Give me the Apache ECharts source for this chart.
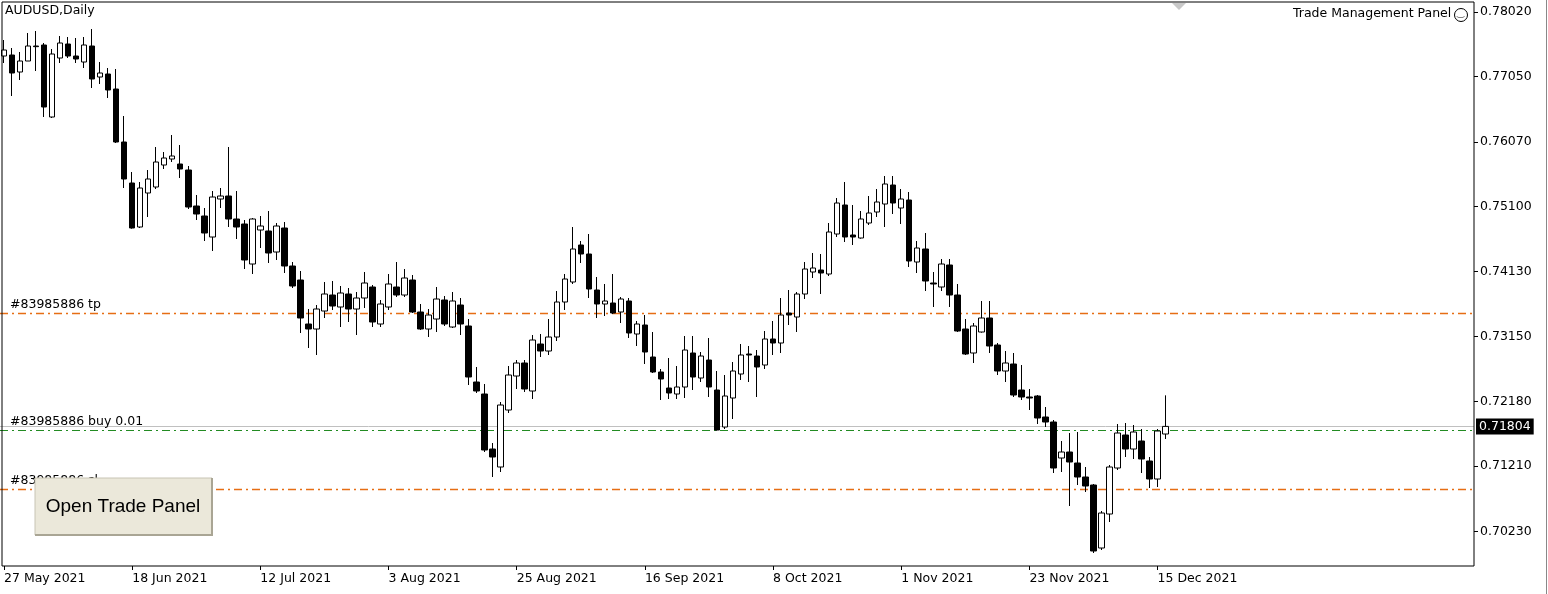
<!DOCTYPE html>
<html><head><meta charset="utf-8">
<script src="https://cdn.jsdelivr.net/npm/echarts@6/dist/echarts.min.js"></script>
<style>html,body{margin:0;padding:0;background:#fff}#c{width:1548px;height:594px}</style>
</head><body><div id="c"></div>
<script>
// OHLC: [open, close, low, high]
const ohlc = [
[0.7736,0.7745,0.77255,0.7760],[0.77375,0.77105,0.7676,0.7748],[0.7712,0.77285,0.7700,0.7742],[0.77285,0.7751,0.77285,0.77705],
[0.7751,0.7750,0.77135,0.77735],[0.77525,0.76595,0.76445,0.77555],[0.76445,0.7739,0.7643,0.77465],[0.7733,0.77555,0.77255,0.7766],
[0.7754,0.7736,0.7733,0.77645],[0.7736,0.77315,0.77255,0.7763],[0.7727,0.77525,0.7718,0.77645],[0.7751,0.77015,0.7688,0.77765],
[0.77045,0.77105,0.7694,0.7727],[0.7709,0.7685,0.7673,0.7718],[0.76865,0.7607,0.76055,0.77165],[0.7607,0.75515,0.7538,0.7646],
[0.75455,0.7478,0.7477,0.7562],[0.74795,0.7538,0.7478,0.7547],[0.75305,0.75515,0.74945,0.7565],[0.75395,0.7577,0.75365,0.75995],
[0.75725,0.7583,0.75665,0.7592],[0.75815,0.7586,0.7577,0.76175],[0.7574,0.75665,0.7553,0.76025],[0.7565,0.75095,0.75065,0.7571],
[0.7511,0.7499,0.7490,0.75275],[0.7496,0.74705,0.74585,0.7508],[0.74645,0.75245,0.74435,0.75335],[0.75215,0.7526,0.7508,0.7538],
[0.7526,0.74915,0.74795,0.75995],[0.74915,0.74795,0.74615,0.75335],[0.7484,0.7430,0.74165,0.7490],[0.7424,0.74915,0.7409,0.7493],
[0.7475,0.7481,0.7448,0.7496],[0.74735,0.74405,0.74255,0.75035],[0.7442,0.7481,0.7430,0.74855],[0.7478,0.7421,0.74105,0.7487],
[0.7421,0.7391,0.7388,0.7427],[0.7400,0.7343,0.73205,0.74135],[0.7334,0.73265,0.7298,0.73565],[0.73265,0.73565,0.72875,0.73625],
[0.73535,0.7379,0.7343,0.7397],[0.73775,0.7361,0.7355,0.73985],[0.73595,0.73805,0.73295,0.7391],[0.7379,0.73565,0.7337,0.7388],
[0.73565,0.7373,0.73175,0.7382],[0.7373,0.73955,0.7358,0.7412],[0.73895,0.7337,0.73295,0.73925],[0.7334,0.7364,0.73295,0.7370],
[0.73595,0.7394,0.7355,0.7409],[0.73895,0.73775,0.73745,0.7427],[0.73775,0.7403,0.73745,0.74165],[0.7400,0.7352,0.73505,0.74075],
[0.7352,0.73265,0.7325,0.7364],[0.73265,0.73475,0.73145,0.73565],[0.73415,0.73715,0.7322,0.73895],[0.7370,0.7334,0.7331,0.7376],
[0.73295,0.73685,0.7328,0.7382],[0.73625,0.7334,0.73175,0.7373],[0.7331,0.72545,0.72425,0.73415],[0.7247,0.72335,0.72305,0.72695],
[0.7229,0.7145,0.7142,0.7244],[0.71465,0.71345,0.71045,0.71555],[0.71195,0.72125,0.7112,0.7217],[0.7205,0.72575,0.72005,0.7271],
[0.7256,0.72755,0.72365,0.7280],[0.72755,0.72365,0.7232,0.7280],[0.72335,0.7310,0.72215,0.73175],[0.7304,0.72935,0.72845,0.7319],
[0.72935,0.73145,0.72875,0.73415],[0.73145,0.7367,0.73085,0.73835],[0.7367,0.74015,0.7355,0.7409],[0.7397,0.74465,0.7394,0.74795],
[0.74525,0.7439,0.74255,0.74585],[0.7439,0.73865,0.7373,0.7469],[0.7385,0.7364,0.7343,0.74045],[0.7364,0.73685,0.7346,0.7394],
[0.73655,0.73505,0.7349,0.7409],[0.7352,0.73715,0.73355,0.73745],[0.73685,0.73205,0.7313,0.7373],[0.7319,0.7334,0.7301,0.73385],
[0.73325,0.7292,0.7274,0.73475],[0.72845,0.7262,0.72605,0.7322],[0.7262,0.72515,0.7220,0.72665],[0.7238,0.72305,0.72215,0.7283],
[0.7229,0.72395,0.72215,0.7271],[0.72395,0.7295,0.7223,0.7316],[0.72905,0.72545,0.7235,0.7316],[0.7253,0.7286,0.7247,0.7292],
[0.7280,0.72395,0.72245,0.7313],[0.7235,0.7175,0.7174,0.72635],[0.71795,0.7226,0.71765,0.72575],[0.7223,0.72635,0.71915,0.7277],
[0.7259,0.72875,0.7250,0.7304],[0.7289,0.72875,0.7247,0.7301],[0.7286,0.72695,0.72245,0.7295],[0.72725,0.73115,0.72665,0.73235],
[0.73115,0.73055,0.72875,0.73385],[0.73055,0.73475,0.72905,0.7373],[0.73505,0.73475,0.73325,0.7385],[0.73445,0.7379,0.7322,0.7382],
[0.7379,0.74165,0.73715,0.7427],[0.7412,0.7418,0.7403,0.74405],[0.7415,0.74105,0.7379,0.7439],[0.7409,0.7472,0.7406,0.74855],
[0.7469,0.75155,0.74645,0.7523],[0.75125,0.74645,0.7457,0.7547],[0.74675,0.74645,0.74525,0.75125],[0.7463,0.74915,0.7462,0.75035],
[0.74855,0.75005,0.74825,0.7526],[0.7502,0.7517,0.74945,0.75365],[0.7514,0.7544,0.74795,0.7556],[0.75425,0.75155,0.7499,0.7556],
[0.7508,0.75215,0.7484,0.75365],[0.7520,0.74285,0.74195,0.7532],[0.7427,0.7448,0.74105,0.74585],[0.74465,0.73985,0.73835,0.74705],
[0.73955,0.7394,0.73595,0.7412],[0.73895,0.7424,0.73835,0.74315],[0.74225,0.73775,0.73595,0.74315],[0.73775,0.73235,0.7322,0.7394],
[0.73265,0.7289,0.72875,0.73415],[0.72905,0.7331,0.72755,0.73355],[0.7322,0.7343,0.7321,0.73685],[0.7343,0.7301,0.72905,0.73685],
[0.73025,0.72635,0.72575,0.73055],[0.72635,0.72755,0.7247,0.72935],[0.7274,0.72275,0.72245,0.72905],[0.7235,0.72245,0.7220,0.72725],
[0.72245,0.7223,0.7205,0.72365],[0.7226,0.7193,0.7184,0.72275],[0.71945,0.7187,0.71795,0.72095],[0.7187,0.7118,0.71105,0.7190],
[0.7133,0.7142,0.7112,0.71585],[0.7142,0.7127,0.7061,0.71705],[0.71255,0.71045,0.70925,0.7172],[0.71045,0.7091,0.7082,0.71195],
[0.70925,0.69935,0.69905,0.7094],[0.6998,0.70505,0.6995,0.70535],[0.7049,0.71195,0.7037,0.71225],[0.7118,0.71705,0.7115,0.7184],
[0.71675,0.71465,0.71345,0.71855],[0.71465,0.7172,0.71315,0.71825],[0.71585,0.71315,0.71105,0.71765],[0.71285,0.71015,0.7088,0.71345],
[0.71015,0.71735,0.70895,0.71765],[0.7169,0.71804,0.71615,0.7227]
];
const yTicks = [0.78020,0.77050,0.76070,0.75100,0.74130,0.73150,0.72180,0.71210,0.70230];
const dateLabels = {0:'27 May 2021',16:'18 Jun 2021',32:'12 Jul 2021',48:'3 Aug 2021',64:'25 Aug 2021',80:'16 Sep 2021',96:'8 Oct 2021',112:'1 Nov 2021',128:'23 Nov 2021',144:'15 Dec 2021'};
const tpLevel = 0.73505, buyLevel = 0.71750, slLevel = 0.70865, bidLevel = 0.71804;
const totalSlots = 184;

const cats = [];
for (let i = 0; i < totalSlots; i++) cats.push(String(i));

const FONT = 'DejaVu Sans';
const FS = 12.5;
const dash = [8,4,2,4];
const ORANGE = 'rgb(230,110,20)';

function levelSeries(name, value, color, type, width, label) {
  return {
    type:'line', name, data:[], silent:true, color,
    markLine:{symbol:'none',silent:true,animation:false,precision:5,
      lineStyle:{color, type, width, opacity:1},
      emphasis:{disabled:true},
      label,
      data:[{yAxis:value, lineStyle:{color, type, width, opacity:1}}]}
  };
}

const chart = echarts.init(document.getElementById('c'));
chart.setOption({
  animation:false,
  backgroundColor:'#fff',
  grid:{left:-1,right:74,top:2,bottom:28},
  xAxis:{type:'category',data:cats,boundaryGap:true,
    axisLine:{show:false},
    axisTick:{show:true,interval:(i)=>dateLabels[i]!==undefined,length:4,lineStyle:{color:'#000'},alignWithLabel:true},
    axisLabel:{interval:(i)=>dateLabels[i]!==undefined,formatter:(v,i)=>dateLabels[i]||'',align:'left',margin:6,color:'#000',fontFamily:FONT,fontSize:FS},
    splitLine:{show:false}},
  yAxis:{type:'value',position:'right',min:0.6971,max:0.7817,scale:true,
    axisLine:{show:false},
    axisTick:{show:true,customValues:yTicks,length:4,lineStyle:{color:'#000'}},
    axisLabel:{customValues:yTicks,formatter:v=>v.toFixed(5),color:'#000',fontFamily:FONT,fontSize:FS,margin:6},
    splitLine:{show:false}},
  series:[
    levelSeries('bid', bidLevel, '#c0c0c0', 'solid', 1,
      {show:true,position:'end',distance:2,formatter:bidLevel.toFixed(5),color:'#fff',backgroundColor:'#000',padding:[2,3,1,3],fontFamily:FONT,fontSize:FS}),
    levelSeries('tp', tpLevel, ORANGE, dash, 1.3,
      {show:true,position:'insideStartTop',distance:[10,2],formatter:'#83985886 tp',color:'#000',fontFamily:FONT,fontSize:FS}),
    levelSeries('buy', buyLevel, '#228b22', dash, 1,
      {show:true,position:'insideStartTop',distance:[10,2],formatter:'#83985886 buy 0.01',color:'#000',fontFamily:FONT,fontSize:FS}),
    levelSeries('sl', slLevel, ORANGE, dash, 1.3,
      {show:true,position:'insideStartTop',distance:[10,2],formatter:'#83985886 sl',color:'#000',fontFamily:FONT,fontSize:FS}),
    {type:'candlestick',data:ohlc,barWidth:6,z:5,
     itemStyle:{color:'#fff',color0:'#000',borderColor:'#000',borderColor0:'#000',borderWidth:1}}
  ],
  graphic:[
    {type:'rect',shape:{x:2,y:2,width:1472,height:564},style:{fill:'none',stroke:'#000',lineWidth:1},z:100},
    {type:'rect',shape:{x:1546,y:0,width:1,height:594},style:{fill:'#888'},z:100},
    {type:'text',left:5,top:4,style:{text:'AUDUSD,Daily',fill:'#000',font:'12.5px "DejaVu Sans"'},z:101},
    {type:'text',left:1293,top:7,style:{text:'Trade Management Panel',fill:'#000',font:'12.5px "DejaVu Sans"'},z:101},
    {type:'circle',shape:{cx:1461,cy:15,r:6.5},style:{fill:'none',stroke:'#000',lineWidth:1},z:101},
    {type:'text',left:1457,top:9,style:{text:'‿',fill:'#000',font:'9px "DejaVu Sans"'},z:101},
    {type:'polygon',shape:{points:[[1172,3],[1186,3],[1179,10]]},style:{fill:'#c8c8c8'},z:101},
    {type:'rect',shape:{x:35,y:478,width:177,height:57},style:{fill:'#ebe8da',stroke:'#c8c4b4',lineWidth:1},z:102},
    {type:'polyline',shape:{points:[[35,535],[212,535],[212,478]]},style:{stroke:'#a9a594',lineWidth:2,fill:'none'},z:103},
    {type:'text',x:123,y:507,style:{text:'Open Trade Panel',fill:'#000',font:'19px "Liberation Sans"',align:'center',verticalAlign:'middle'},z:104}
  ]
});
</script></body></html>
